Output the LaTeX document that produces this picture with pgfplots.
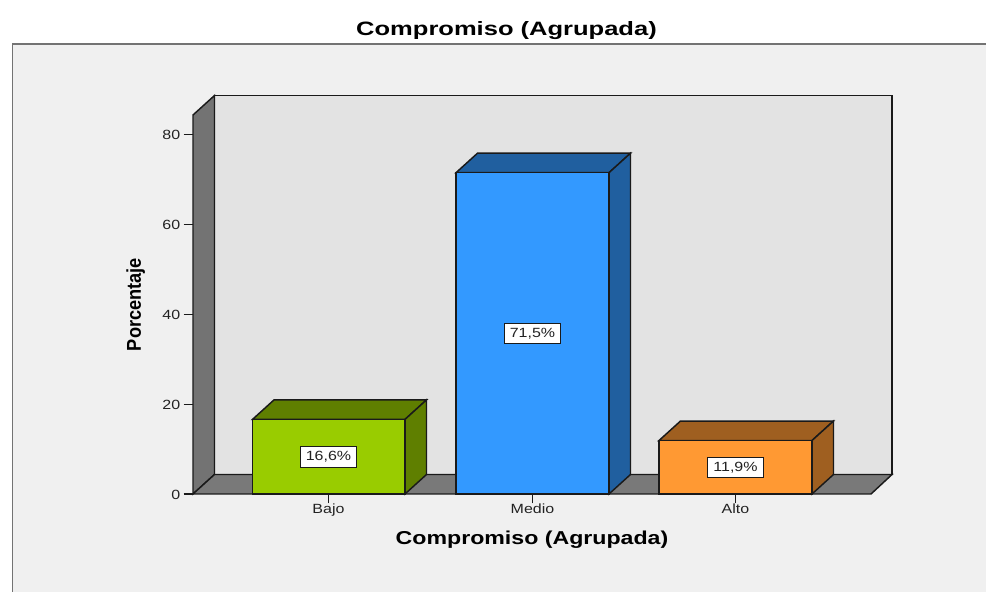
\documentclass[border=0pt]{standalone}
\usepackage{fontspec}
\setmainfont{Liberation Sans}
\usepackage{pgfplots}
\pgfplotsset{compat=1.18}
\newcommand\W[1]{\scalebox{1.2}[1]{#1}}
\definecolor{bgc}{HTML}{F0F0F0}
\definecolor{wallc}{HTML}{E3E3E3}
\definecolor{sidec}{HTML}{737373}
\definecolor{floorc}{HTML}{797979}
\definecolor{gf}{HTML}{99CC00}
\definecolor{gd}{HTML}{5F7F00}
\definecolor{bf}{HTML}{3399FF}
\definecolor{bd}{HTML}{205F9F}
\definecolor{of}{HTML}{FF9933}
\definecolor{od}{HTML}{9F5F20}
\definecolor{txt}{HTML}{222222}
\definecolor{edge}{HTML}{1A1A1A}
\begin{document}
\begin{tikzpicture}[x=0.75pt,y=0.75pt]
\useasboundingbox (0,0) rectangle (986,592);
\fill[white] (0,0) rectangle (986,592);
\fill[bgc] (12.5,0) rectangle (986,548);
\draw[color=gray!90!black,line width=1.1pt] (12.5,0) -- (12.5,548) -- (986,548);
\node[font=\bfseries\fontsize{14.5}{14.5}\selectfont,text=black,xscale=1.32] at (506.5,561) {Compromiso (Agrupada)};
\begin{axis}[
  at={(144.75pt,73.5pt)}, anchor=south west,
  scale only axis, width=508.5pt, height=284.25pt,
  xmin=193, xmax=871, ymin=0, ymax=84.34,
  clip=false,
  axis line style={draw=none},
  tick pos=left, tick align=outside,
  major tick length=7pt,
  tick style={draw=edge,line width=0.8pt},
  xtick={328.5,532.5,735.5},
  xticklabels={\W{Bajo},\W{Medio},\W{Alto}},
  ytick={0,20,40,60,80},
  yticklabel style={font=\fontsize{10}{10}\selectfont,text=txt,xshift=1pt,yshift=-0.6pt},
  xticklabel style={font=\fontsize{10}{10}\selectfont,text=txt,yshift=3pt},
  yticklabel={\W{\pgfmathprintnumber{\tick}}},
  /pgf/number format/assume math mode=true,
  xlabel style={at={(axis description cs:0.5,0)},anchor=center,yshift=-34pt,xshift=0pt},
  xlabel={\scalebox{1.24}[1]{\bfseries\fontsize{14}{14}\selectfont Compromiso (Agrupada)}},
  ylabel style={at={(axis description cs:0,0.5)},anchor=center,yshift=43pt},
  ylabel={\scalebox{0.91}[1]{\bfseries\fontsize{15}{15}\selectfont Porcentaje}},
]
\pgfplotsset{every axis plot/.append style={draw=edge,line width=1.1pt}}
% walls and floor
\addplot[fill=wallc] coordinates {(214.5,4.34)(892,4.34)(892,88.68)(214.5,88.68)} -- cycle;
\addplot[fill=sidec] coordinates {(193,0)(214.5,4.34)(214.5,88.68)(193,84.34)} -- cycle;
\addplot[fill=floorc] coordinates {(193,0)(871,0)(892,4.34)(214.5,4.34)} -- cycle;
% Bajo
\addplot[fill=gd] coordinates {(252.5,16.6)(405,16.6)(426.5,20.94)(274,20.94)} -- cycle;
\addplot[fill=gd] coordinates {(405,0)(426.5,4.34)(426.5,20.94)(405,16.6)} -- cycle;
\addplot[ybar,bar width=114.4pt,bar shift=0pt,fill=gf] coordinates {(328.75,16.6)};
% Medio
\addplot[fill=bd] coordinates {(456,71.5)(609,71.5)(630.5,75.84)(477.5,75.84)} -- cycle;
\addplot[fill=bd] coordinates {(609,0)(630.5,4.34)(630.5,75.84)(609,71.5)} -- cycle;
\addplot[ybar,bar width=114.75pt,bar shift=0pt,fill=bf] coordinates {(532.5,71.5)};
% Alto
\addplot[fill=od] coordinates {(659,11.9)(812,11.9)(833.5,16.24)(680.5,16.24)} -- cycle;
\addplot[fill=od] coordinates {(812,0)(833.5,4.34)(833.5,16.24)(812,11.9)} -- cycle;
\addplot[ybar,bar width=114.75pt,bar shift=0pt,fill=of] coordinates {(735.5,11.9)};
% value labels
\tikzset{vl/.style={fill=white,draw=edge,line width=0.8pt,inner sep=0pt,minimum width=42.5pt,minimum height=15.5pt,font=\fontsize{10}{10}\selectfont,text=txt}}
\node[vl] at (axis cs:328.5,8.2) {\raisebox{-0.5pt}{\W{16,6\%}}};
\node[vl] at (axis cs:532.5,35.7) {\raisebox{-0.5pt}{\W{71,5\%}}};
\node[vl] at (axis cs:735.5,5.9) {\raisebox{-0.5pt}{\W{11,9\%}}};
\end{axis}
\end{tikzpicture}
\end{document}
